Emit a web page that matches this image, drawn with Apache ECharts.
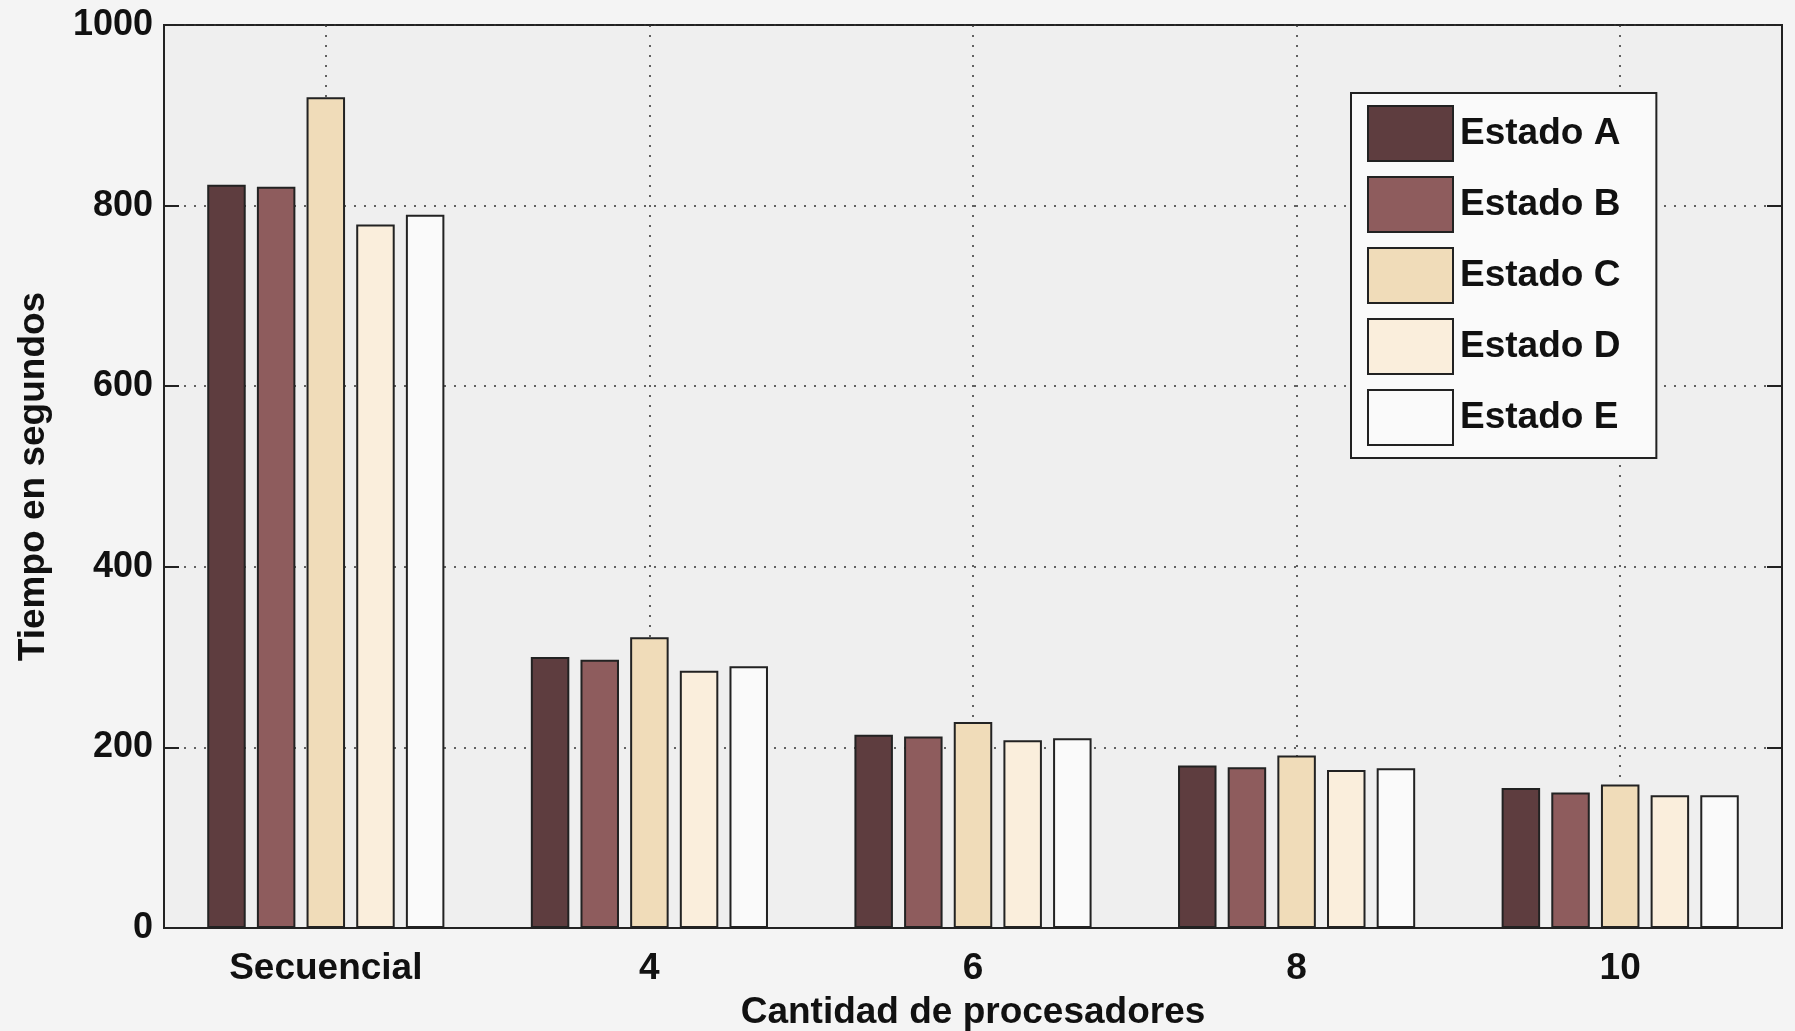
<!DOCTYPE html>
<html>
<head>
<meta charset="utf-8">
<style>
  html, body { margin: 0; padding: 0; background: #f4f4f4; }
  #chart { width: 1795px; height: 1031px; }
</style>
<script src="https://cdn.jsdelivr.net/npm/echarts@6/dist/echarts.min.js"></script>
</head>
<body>
<div id="chart"></div>
<script>
const categories = ['Secuencial', '4', '6', '8', '10']
const seriesNames = ['Estado A', 'Estado B', 'Estado C', 'Estado D', 'Estado E']
const estadoA = [823, 300, 214, 180, 155]
const estadoB = [821, 297, 212, 178, 150]
const estadoC = [920, 322, 228, 191, 159]
const estadoD = [779, 285, 208, 175, 147]
const estadoE = [790, 290, 210, 177, 147]
const colors = ['#5e3d3f', '#8e5c5d', '#f0dcb9', '#faeedc', '#fafafa']

const font = { fontFamily: 'Liberation Sans, Arial, sans-serif', fontWeight: 'bold', fontSize: 37, color: '#111' }
const dotted = { color: '#333', width: 1.5, type: [2, 8] }

const chart = echarts.init(document.getElementById('chart'))
chart.setOption({
  animation: false,
  backgroundColor: '#f4f4f4',
  grid: {
    left: 164, right: 13, top: 25, bottom: 103, outerBoundsMode: 'none',
    show: true, backgroundColor: '#efefef', borderColor: '#222', borderWidth: 2
  },
  legend: {
    orient: 'vertical', left: 1351, top: 93,
    itemWidth: 85, itemHeight: 55, itemGap: 14,
    padding: [12, 36, 12, 16],
    backgroundColor: '#fafafa', borderColor: '#222', borderWidth: 2,
    icon: 'rect',
    itemStyle: { borderColor: '#222', borderWidth: 2 },
    textStyle: { ...font, fontSize: 37, padding: [0, 0, 0, 2] },
    data: seriesNames
  },
  xAxis: [{
    type: 'category', data: categories,
    axisLine: { lineStyle: { color: '#222', width: 2 } },
    axisTick: { inside: true, alignWithLabel: true, length: 15, lineStyle: { color: '#222', width: 2 } },
    axisLabel: { ...font, margin: 22 },
    splitLine: { show: true, alignWithLabel: true, lineStyle: dotted },
    name: 'Cantidad de procesadores', nameLocation: 'middle', nameGap: 66,
    nameTextStyle: font
  }, {
    type: 'category', data: categories, position: 'top',
    axisLine: { show: false },
    axisTick: { inside: true, alignWithLabel: true, length: 15, lineStyle: { color: '#222', width: 2 } },
    axisLabel: { show: false }
  }],
  yAxis: [{
    type: 'value', min: 0, max: 1000, interval: 200,
    axisLine: { show: true, lineStyle: { color: '#222', width: 2 } },
    axisTick: { show: true, inside: true, length: 15, lineStyle: { color: '#222', width: 2 } },
    axisLabel: { ...font, fontSize: 36, margin: 11, formatter: v => String(v) },
    splitLine: { show: true, lineStyle: dotted },
    name: 'Tiempo en segundos', nameLocation: 'middle', nameGap: 112,
    nameTextStyle: font
  }, {
    type: 'value', min: 0, max: 1000, interval: 200, position: 'right',
    axisLine: { show: false },
    axisTick: { show: true, inside: true, length: 15, lineStyle: { color: '#222', width: 2 } },
    axisLabel: { show: false },
    splitLine: { show: false }
  }],
  series: [estadoA, estadoB, estadoC, estadoD, estadoE].map((d, i) => ({
    name: seriesNames[i], type: 'bar', data: d,
    barWidth: 38.5, barGap: '29%',
    itemStyle: { color: colors[i], borderColor: '#222', borderWidth: 2 }
  }))
})
</script>
</body>
</html>
